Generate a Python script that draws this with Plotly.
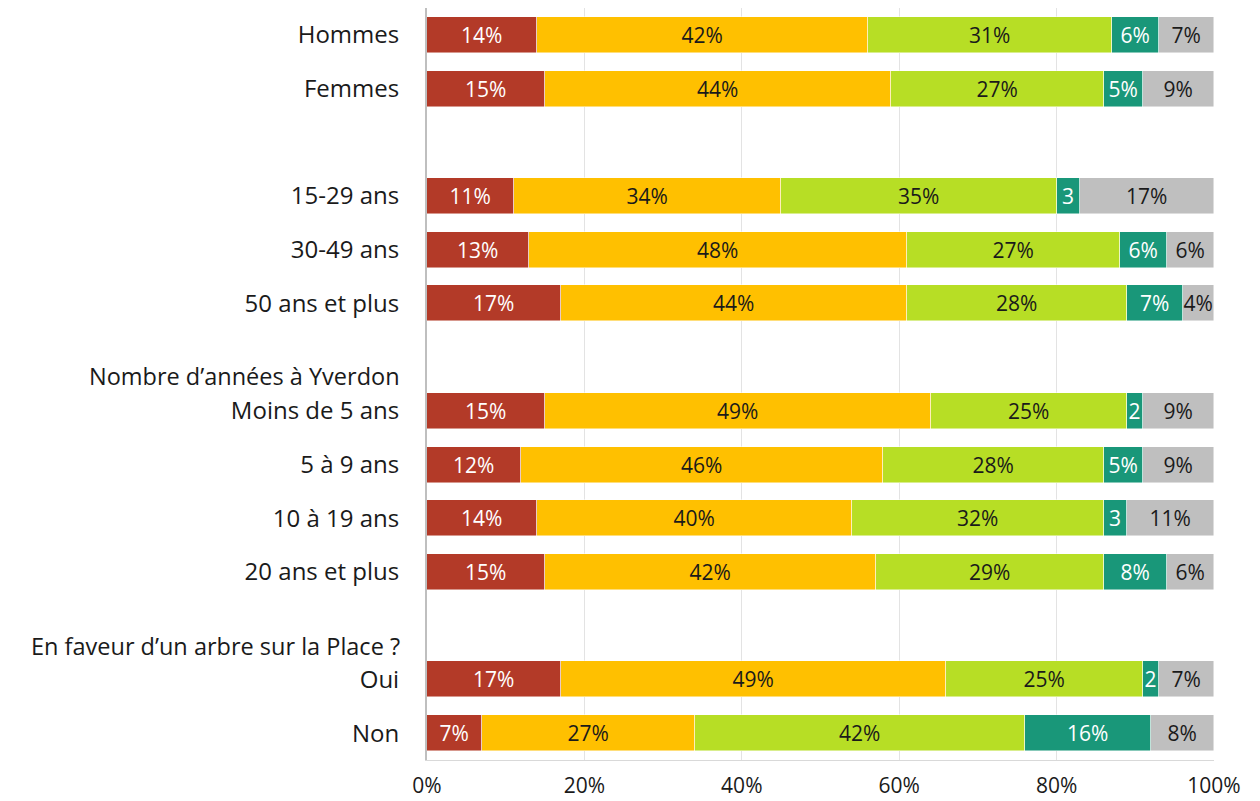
import plotly.graph_objects as go

# Rows from top to bottom (None = blank spacer row)
categories = ["Hommes", "Femmes", None, "15-29 ans", "30-49 ans", "50 ans et plus", None,
              "Moins de 5 ans", "5 à 9 ans", "10 à 19 ans", "20 ans et plus", None,
              "Oui", "Non"]
group_titles = ["Nombre d’années à Yverdon", "En faveur d’un arbre sur la Place ?"]
group_title_rows = [6.36, 11.38]

s1 = [14, 15, None, 11, 13, 17, None, 15, 12, 14, 15, None, 17, 7]
s2 = [42, 44, None, 34, 48, 44, None, 49, 46, 40, 42, None, 49, 27]
s3 = [31, 27, None, 35, 27, 28, None, 25, 28, 32, 29, None, 25, 42]
s4 = [6, 5, None, 3, 6, 7, None, 2, 5, 3, 8, None, 2, 16]
s5 = [7, 9, None, 17, 6, 4, None, 9, 9, 11, 6, None, 7, 8]

series = [s1, s2, s3, s4, s5]
colors = ["#B33A28", "#FFC000", "#B7DE25", "#199779", "#BFBFBF"]
text_colors = ["white", "#1a1a1a", "#1a1a1a", "white", "#1a1a1a"]
tick_vals = [0, 20, 40, 60, 80, 100]
tick_text = ["0%", "20%", "40%", "60%", "80%", "100%"]

FONT = "Open Sans"
rows = list(range(len(categories)))

fig = go.Figure()
for i, vals in enumerate(series):
    labels = []
    for v in vals:
        if v is None:
            labels.append("")
        elif i == 3 and v <= 3:
            labels.append(str(v))
        else:
            labels.append(f"{v}%")
    fig.add_trace(go.Bar(
        y=rows, x=vals, orientation="h",
        marker=dict(color=colors[i], line=dict(color="rgba(255,255,255,0.6)", width=0.8)),
        text=labels, textposition="inside", insidetextanchor="middle", textangle=0,
        textfont=dict(family=FONT, size=21, color=text_colors[i]),
        width=0.67, hoverinfo="skip", showlegend=False,
    ))

tv = [r for r, c in zip(rows, categories) if c is not None]
tt = [c for c in categories if c is not None]

annotations = []
for title, r in zip(group_titles, group_title_rows):
    annotations.append(dict(text=title, x=0, xref="paper", y=r, yref="y",
                            xanchor="right", yanchor="middle", xshift=-25,
                            showarrow=False, font=dict(family=FONT, size=23.5, color="#1a1a1a")))

fig.update_layout(
    barmode="stack",
    width=1252, height=793,
    margin=dict(l=419, r=46, t=0, b=41, autoexpand=False),
    paper_bgcolor="white", plot_bgcolor="white",
    bargap=0,
    uniformtext=dict(minsize=21, mode="show"),
    annotations=annotations,
    xaxis=dict(range=[0, 100], tickvals=tick_vals, ticktext=tick_text,
               showgrid=True, gridcolor="#E3E3E3", gridwidth=1,
               showline=True, linecolor="#D9D9D9", linewidth=1,
               zeroline=False, ticks="", ticklabelstandoff=7, automargin=False,
               tickfont=dict(family=FONT, size=21, color="#1a1a1a"), fixedrange=True),
    yaxis=dict(range=[13.5, -0.5], tickvals=tv, ticktext=tt,
               showgrid=False, zeroline=False, automargin=False,
               showline=True, linecolor="#BFBFBF", linewidth=2,
               ticks="", ticklabelstandoff=21,
               tickfont=dict(family=FONT, size=24, color="#1a1a1a"), fixedrange=True),
)

fig.write_html("out.html")
